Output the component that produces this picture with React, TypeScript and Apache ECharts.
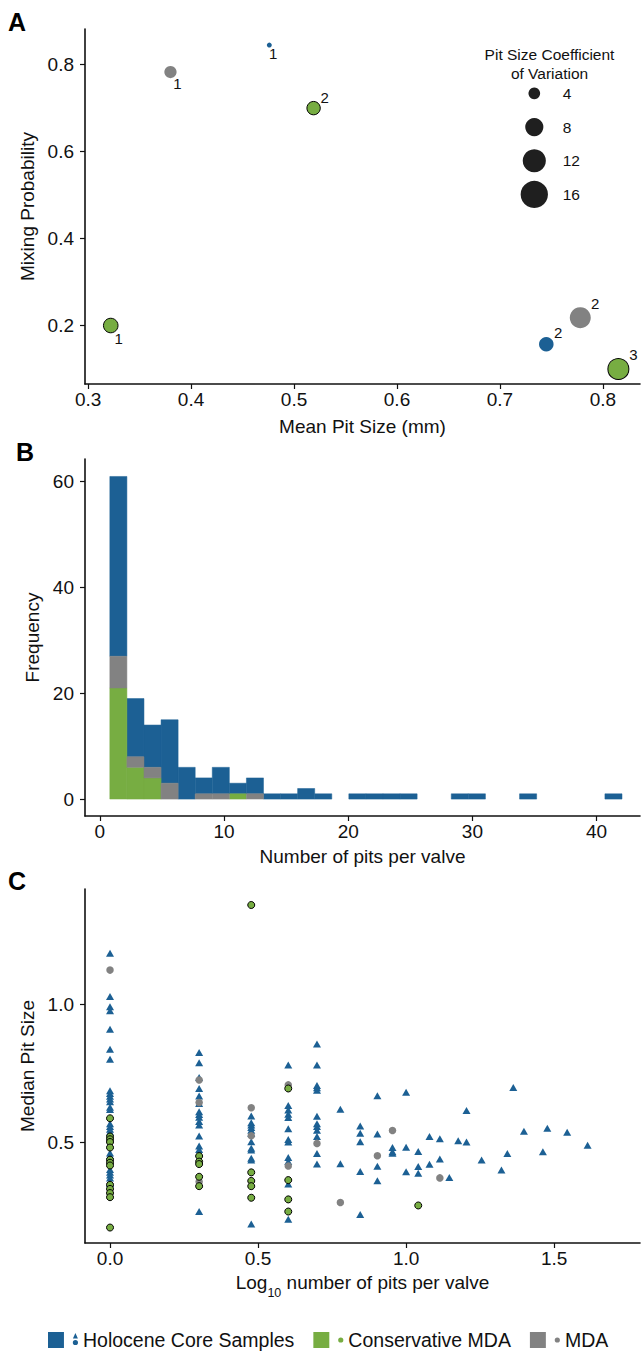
import React, { useEffect, useRef } from 'react';
import * as echarts from 'echarts';

const FONT = '"Liberation Sans", Arial, Helvetica, sans-serif';
const BLUE = '#1c6094';
const GREEN = '#77ad42';
const GRAY = '#828282';
const INK = '#111111';

const groups = ['Holocene Core Samples', 'Conservative MDA', 'MDA'];

// ---------- Panel A: mixture components ----------
const mixTicksX = [0.3, 0.4, 0.5, 0.6, 0.7, 0.8];
const mixTicksY = [0.2, 0.4, 0.6, 0.8];
// [mean pit size (mm), mixing probability, pit size CV, component]
const mixHolocene = [
  [0.476, 0.845, 1.3, 1],
  [0.745, 0.157, 5.6, 2],
];
const mixConservative = [
  [0.322, 0.2, 5.6, 1],
  [0.519, 0.7, 4.9, 2],
  [0.815, 0.1, 10.2, 3],
];
const mixMDA = [
  [0.38, 0.783, 4.3, 1],
  [0.778, 0.218, 10.2, 2],
];
const cvLegend = [4, 8, 12, 16];

// ---------- Panel B: histogram ----------
const binStart = 0.8;
const binWidth = 1.375;
const histConservative = [21, 6, 4, 0, 0, 0, 0, 1, 0, 0, 0, 0, 0, 0, 0, 0, 0, 0, 0, 0, 0, 0, 0, 0, 0, 0, 0, 0, 0, 0];
const histMDA = [6, 2, 2, 3, 0, 1, 1, 0, 1, 0, 0, 0, 0, 0, 0, 0, 0, 0, 0, 0, 0, 0, 0, 0, 0, 0, 0, 0, 0, 0];
const histHolocene = [34, 11, 8, 12, 6, 3, 5, 2, 3, 1, 1, 2, 1, 0, 1, 1, 1, 1, 0, 0, 1, 1, 0, 0, 1, 0, 0, 0, 0, 1];
const histTicksX = [0, 10, 20, 30, 40];
const histTicksY = [0, 20, 40, 60];

// ---------- Panel C: log10 pits vs median pit size ----------
const logTicksX = [0.0, 0.5, 1.0, 1.5];
const medTicksY = [0.5, 1.0];
const medHolocene = [
  [0, 1.184], [0, 1.027], [0, 0.99], [0, 0.976], [0, 0.909], [0, 0.836], [0, 0.8], [0, 0.686], [0, 0.676],
  [0, 0.666], [0, 0.656], [0, 0.646], [0, 0.626], [0, 0.618], [0, 0.566], [0, 0.556], [0, 0.546], [0, 0.536],
  [0, 0.49], [0, 0.46], [0, 0.45], [0, 0.4], [0, 0.39], [0, 0.38], [0, 0.37], [0, 0.35],
  [0.301, 0.824], [0.301, 0.787], [0.301, 0.734], [0.301, 0.694], [0.301, 0.667], [0.301, 0.64], [0.301, 0.61],
  [0.301, 0.6], [0.301, 0.59], [0.301, 0.574], [0.301, 0.562], [0.301, 0.522], [0.301, 0.486], [0.301, 0.473],
  [0.301, 0.459], [0.301, 0.248],
  [0.477, 0.594], [0.477, 0.57], [0.477, 0.562], [0.477, 0.553], [0.477, 0.543], [0.477, 0.531], [0.477, 0.501],
  [0.477, 0.477], [0.477, 0.471], [0.477, 0.441], [0.477, 0.435], [0.477, 0.203],
  [0.602, 0.779], [0.602, 0.632], [0.602, 0.616], [0.602, 0.601], [0.602, 0.589], [0.602, 0.548], [0.602, 0.509],
  [0.602, 0.5], [0.602, 0.444], [0.602, 0.429], [0.602, 0.348], [0.602, 0.22],
  [0.699, 0.855], [0.699, 0.779], [0.699, 0.705], [0.699, 0.697], [0.699, 0.688], [0.699, 0.593], [0.699, 0.566],
  [0.699, 0.556], [0.699, 0.543], [0.699, 0.52], [0.699, 0.458], [0.699, 0.42],
  [0.778, 0.619], [0.778, 0.421],
  [0.845, 0.558], [0.845, 0.532], [0.845, 0.501], [0.845, 0.393], [0.845, 0.237],
  [0.903, 0.668], [0.903, 0.529], [0.903, 0.412], [0.903, 0.36],
  [0.954, 0.48], [0.954, 0.465], [0.954, 0.459],
  [1.0, 0.68], [1.0, 0.481], [1.0, 0.392],
  [1.041, 0.466], [1.041, 0.411], [1.041, 0.387],
  [1.079, 0.52], [1.079, 0.419],
  [1.114, 0.512], [1.114, 0.438],
  [1.146, 0.371], [1.176, 0.505], [1.204, 0.614], [1.204, 0.5], [1.255, 0.435], [1.322, 0.399], [1.342, 0.458],
  [1.362, 0.698], [1.398, 0.539], [1.462, 0.465], [1.477, 0.55], [1.544, 0.535], [1.613, 0.488],
];
const medConservative = [
  [0, 0.586], [0, 0.52], [0, 0.51], [0, 0.5], [0, 0.48], [0, 0.436], [0, 0.425], [0, 0.415], [0, 0.345],
  [0, 0.33], [0, 0.315], [0, 0.3], [0, 0.19],
  [0.301, 0.449], [0.301, 0.429], [0.301, 0.42], [0.301, 0.374], [0.301, 0.34],
  [0.477, 1.359], [0.477, 0.39], [0.477, 0.359], [0.477, 0.34], [0.477, 0.298],
  [0.602, 0.694], [0.602, 0.362], [0.602, 0.292], [0.602, 0.248],
  [1.041, 0.27],
];
const medMDA = [
  [0, 1.123],
  [0.301, 0.725], [0.301, 0.643], [0.301, 0.356],
  [0.477, 0.624], [0.477, 0.523],
  [0.602, 0.707], [0.602, 0.413],
  [0.699, 0.495], [0.778, 0.281], [0.903, 0.45], [0.954, 0.542], [1.114, 0.37],
];

const cvToDiameter = (v: number) => -3.9 + 7.8 * Math.sqrt(v);

const ICON_HOLO = 'path://M0 0H16V16H0Z M27.5 1L30 6.5H25Z M24.9 10.5A2.6 2.6 0 1 0 30.1 10.5A2.6 2.6 0 1 0 24.9 10.5Z';
const ICON_DOT = 'path://M0 0H16V16H0Z M24.9 8A2.6 2.6 0 1 0 30.1 8A2.6 2.6 0 1 0 24.9 8Z';

function axisBase(extra: any) {
  return {
    nameLocation: 'middle',
    nameTextStyle: { color: INK, fontSize: 19, fontFamily: FONT },
    axisLine: { show: true, onZero: false, lineStyle: { color: INK, width: 1.6 } },
    axisTick: { show: true, length: 5, lineStyle: { color: INK, width: 1.2 } },
    axisLabel: { color: INK, fontSize: 19, fontFamily: FONT },
    splitLine: { show: false },
    ...extra,
  };
}

function withTicks(values: number[], fmt: (v: number) => string, margin: number) {
  return {
    axisTick: { show: true, length: 5, lineStyle: { color: INK, width: 1.2 }, customValues: values },
    axisLabel: { color: INK, fontSize: 19, fontFamily: FONT, customValues: values, formatter: (v: number) => fmt(v), margin },
  };
}

function stackRects(counts: number[], below: number[][]) {
  const out: number[][] = [];
  counts.forEach((c, i) => {
    const base = below.reduce((s, arr) => s + arr[i], 0);
    const x0 = binStart + i * binWidth;
    if (c > 0) out.push([x0, x0 + binWidth, base, base + c]);
  });
  return out;
}

function histSeries(name: string, color: string, data: number[][]) {
  return {
    type: 'custom',
    name,
    xAxisIndex: 1,
    yAxisIndex: 1,
    itemStyle: { color },
    encode: { x: [0, 1], y: [2, 3] },
    data,
    renderItem: (_params: any, api: any) => {
      const a = api.coord([api.value(0), api.value(2)]);
      const b = api.coord([api.value(1), api.value(3)]);
      return {
        type: 'rect',
        shape: { x: a[0], y: b[1], width: b[0] - a[0], height: a[1] - b[1] },
        style: { fill: color, stroke: color, lineWidth: 0.5 },
      };
    },
  };
}

function mixSeries(name: string, rows: number[][], color: string, border: boolean) {
  return {
    type: 'scatter',
    name,
    xAxisIndex: 0,
    yAxisIndex: 0,
    symbol: 'circle',
    data: rows.map((r) => {
      const d = cvToDiameter(r[2]);
      const h = d / 2;
      const off = r[3] === 1 ? [0.9 * h + 1.5, h + 5.5] : [h + 4.5, -(h + 4)];
      return { value: r, symbolSize: d, label: { offset: off } };
    }),
    itemStyle: { color, opacity: 1, borderColor: border ? '#000' : color, borderWidth: border ? 1 : 0 },
    label: {
      show: true,
      position: 'inside',
      formatter: (p: any) => String(p.value[3]),
      fontSize: 15,
      color: INK,
      fontFamily: FONT,
    },
    emphasis: { disabled: true },
    z: 3,
  };
}

function medSeries(name: string, rows: number[][], color: string, symbol: string, size: any, border: boolean, z: number) {
  return {
    type: 'scatter',
    name,
    xAxisIndex: 2,
    yAxisIndex: 2,
    symbol,
    symbolSize: size,
    data: rows,
    itemStyle: { color, opacity: 1, borderColor: border ? '#000' : color, borderWidth: border ? 1 : 0 },
    emphasis: { disabled: true },
    z,
  };
}

function buildOption() {
  const fmt1 = (v: number) => v.toFixed(1);
  const fmt0 = (v: number) => String(v);
  return {
    animation: false,
    backgroundColor: '#ffffff',
    textStyle: { fontFamily: FONT },
    grid: [
      { left: 85, top: 29, width: 555, height: 355, outerBoundsMode: 'none' },
      { left: 85, top: 459, width: 555, height: 357, outerBoundsMode: 'none' },
      { left: 85, top: 889, width: 555, height: 354, outerBoundsMode: 'none' },
      { left: 524.3, top: 76.5, width: 20, height: 134.8, outerBoundsMode: 'none' },
    ],
    xAxis: [
      axisBase({ type: 'value', gridIndex: 0, min: 0.297, max: 0.836, name: 'Mean Pit Size (mm)', nameGap: 33, ...withTicks(mixTicksX, fmt1, 6) }),
      axisBase({ type: 'value', gridIndex: 1, min: -1.2, max: 43.5, name: 'Number of pits per valve', nameGap: 31, ...withTicks(histTicksX, fmt0, 6) }),
      axisBase({
        type: 'value', gridIndex: 2, min: -0.0845, max: 1.79,
        name: '{a|Log}{s|10}{a| number of pits per valve}', nameGap: 30,
        nameTextStyle: {
          rich: {
            a: { fontSize: 19, fontFamily: FONT, color: INK, lineHeight: 26, verticalAlign: 'top' },
            s: { fontSize: 12.5, fontFamily: FONT, color: INK, lineHeight: 14, verticalAlign: 'bottom' },
          },
        },
        ...withTicks(logTicksX, fmt1, 6),
      }),
      { type: 'value', gridIndex: 3, min: -1, max: 1, show: false },
    ],
    yAxis: [
      axisBase({ type: 'value', gridIndex: 0, min: 0.0655, max: 0.882, name: 'Mixing Probability', nameGap: 43, ...withTicks(mixTicksY, fmt1, 11) }),
      axisBase({ type: 'value', gridIndex: 1, min: -3.2, max: 64.3, name: 'Frequency', nameGap: 43, ...withTicks(histTicksY, fmt0, 11) }),
      axisBase({ type: 'value', gridIndex: 2, min: 0.134, max: 1.417, name: 'Median Pit Size', nameGap: 43, ...withTicks(medTicksY, fmt1, 11) }),
      { type: 'category', gridIndex: 3, data: cvLegend.map(String), inverse: true, show: false },
    ],
    legend: {
      left: 43,
      top: 1325,
      itemWidth: 30,
      itemHeight: 16,
      itemGap: 19,
      selectedMode: false,
      textStyle: { fontSize: 19.5, color: INK, fontFamily: FONT },
      data: [
        { name: groups[0], icon: ICON_HOLO, itemStyle: { color: BLUE, borderWidth: 0 } },
        { name: groups[1], icon: ICON_DOT, itemStyle: { color: GREEN, borderWidth: 0 } },
        { name: groups[2], icon: ICON_DOT, itemStyle: { color: GRAY, borderWidth: 0 } },
      ],
    },
    graphic: [
      { type: 'text', left: 8, top: 9, style: { text: 'A', font: `bold 25px ${FONT}`, fill: '#000' } },
      { type: 'text', left: 16, top: 439, style: { text: 'B', font: `bold 25px ${FONT}`, fill: '#000' } },
      { type: 'text', left: 8, top: 868, style: { text: 'C', font: `bold 25px ${FONT}`, fill: '#000' } },
      {
        type: 'text',
        x: 549.5,
        y: 64,
        style: {
          text: 'Pit Size Coefficient\nof Variation',
          font: `15.5px ${FONT}`,
          fill: INK,
          align: 'center',
          verticalAlign: 'middle',
          lineHeight: 18.5,
        },
      },
    ],
    series: [
      mixSeries(groups[0], mixHolocene, BLUE, false),
      mixSeries(groups[1], mixConservative, GREEN, true),
      mixSeries(groups[2], mixMDA, GRAY, false),
      {
        type: 'scatter',
        name: 'cv-size-key',
        xAxisIndex: 3,
        yAxisIndex: 3,
        symbol: 'circle',
        data: cvLegend.map((v) => [0, String(v)]),
        symbolSize: (val: any) => cvToDiameter(Number(val[1])),
        itemStyle: { color: '#1f1f1f', opacity: 1 },
        label: {
          show: true,
          position: 'inside',
          align: 'left',
          offset: [28.4, 0],
          formatter: (p: any) => String(p.value[1]),
          fontSize: 15.5,
          color: INK,
          fontFamily: FONT,
        },
        emphasis: { disabled: true },
      },
      histSeries(groups[0], BLUE, stackRects(histHolocene, [histConservative, histMDA])),
      histSeries(groups[1], GREEN, stackRects(histConservative, [])),
      histSeries(groups[2], GRAY, stackRects(histMDA, [histConservative])),
      medSeries(groups[0], medHolocene, BLUE, 'triangle', [8, 7], false, 2),
      medSeries(groups[2], medMDA, GRAY, 'circle', 7.5, false, 3),
      medSeries(groups[1], medConservative, GREEN, 'circle', 7, true, 4),
    ],
  };
}

export default function App() {
  const ref = useRef<HTMLDivElement>(null);
  useEffect(() => {
    if (!ref.current) return;
    const chart = echarts.init(ref.current, null, { renderer: 'svg' });
    chart.setOption(buildOption() as any);
    return () => {
      chart.dispose();
    };
  }, []);
  return (
    <div
      ref={ref}
      style={{ position: 'absolute', left: 0, top: 0, width: 644, height: 1354, background: '#fff' }}
    />
  );
}
